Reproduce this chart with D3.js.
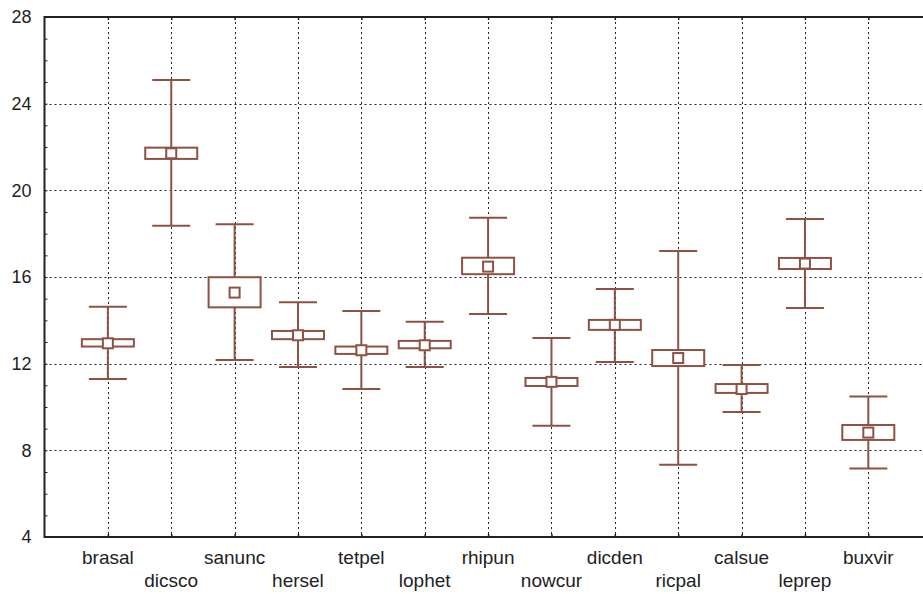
<!DOCTYPE html>
<html>
<head>
<meta charset="utf-8">
<script src="https://cdn.jsdelivr.net/npm/d3@7"></script>
<style>
  html, body { margin: 0; padding: 0; background: #fff; }
  svg { display: block; }
  text { font-family: "Liberation Sans", Arial, sans-serif; fill: #222; }
</style>
</head>
<body>
<svg id="chart" width="923" height="594"></svg>
<script>
const categories = ["brasal", "dicsco", "sanunc", "hersel", "tetpel", "lophet", "rhipun",
                    "nowcur", "dicden", "ricpal", "calsue", "leprep", "buxvir"];
const means       = [12.94, 21.71, 15.28, 13.31, 12.62, 12.85, 16.48, 11.16, 13.79, 12.26, 10.83, 16.62, 8.82];
const boxLow      = [12.79, 21.45, 14.60, 13.13, 12.45, 12.71, 16.13, 10.97, 13.56, 11.89, 10.65, 16.37, 8.48];
const boxHigh     = [13.13, 21.97, 15.99, 13.51, 12.79, 13.05, 16.89, 11.34, 14.02, 12.63, 11.06, 16.88, 9.17];
const whiskerLow  = [11.29, 18.36, 12.17, 11.85, 10.83, 11.85, 14.29,  9.13, 12.08,  7.33,  9.77, 14.57, 7.16];
const whiskerHigh = [14.63, 25.09, 18.43, 14.83, 14.43, 13.94, 18.74, 13.19, 15.45, 17.20, 11.94, 18.68, 10.48];
const yTicks = [4, 8, 12, 16, 20, 24, 28];
const yMinorTicks = d3.range(4, 29, 1);

(function () {
const svg = d3.select("#chart");
const mLeft = 44.5, mTop = 17, mBottom = 537;
const step = 63.37;
const x = d3.scaleLinear().domain([0, categories.length + 1]).range([mLeft, mLeft + step * (categories.length + 1)]);
const y = d3.scaleLinear().domain([4, 28]).range([mBottom, mTop]);
const color = "#8d5243";
const data = categories.map((c, i) => ({
  name: c, pos: i + 1, mean: means[i], lo: boxLow[i], hi: boxHigh[i], wlo: whiskerLow[i], whi: whiskerHigh[i]
}));

// grid
const grid = svg.append("g").attr("stroke", "#222").attr("stroke-width", 1).attr("stroke-dasharray", "2,3");
grid.selectAll("line.h").data(yTicks.slice(1, -1)).join("line")
  .attr("x1", mLeft).attr("x2", 923)
  .attr("y1", d => Math.round(y(d)) + 0.5).attr("y2", d => Math.round(y(d)) + 0.5);
grid.selectAll("line.v").data(data).join("line")
  .attr("x1", d => Math.round(x(d.pos)) + 0.5).attr("x2", d => Math.round(x(d.pos)) + 0.5)
  .attr("y1", mTop).attr("y2", mBottom);

// y axis labels
const yAxis = d3.axisLeft(y).tickValues(yTicks).tickSize(0).tickPadding(13).tickFormat(d3.format("d"));
const ga = svg.append("g").attr("transform", `translate(${mLeft},0)`).call(yAxis);
ga.select(".domain").remove();
ga.selectAll("text").style("font-size", "18px").attr("fill", "#222");

// minor ticks inside left axis
const minor = d3.axisRight(y).tickValues(yMinorTicks).tickSize(3).tickFormat("");
const gm = svg.append("g").attr("transform", `translate(${mLeft},0)`).call(minor);
gm.select(".domain").remove();
gm.selectAll("line").attr("stroke", "#222");

// category ticks on top and bottom
const xTop = d3.axisBottom(x).tickValues(data.map(d => d.pos)).tickSize(3).tickFormat("");
const gt = svg.append("g").attr("transform", `translate(0,${mTop})`).call(xTop);
gt.select(".domain").remove();
gt.selectAll("line").attr("stroke", "#222").attr("stroke-width", 1.5);
const xBot = d3.axisTop(x).tickValues(data.map(d => d.pos)).tickSize(3).tickFormat("");
const gb = svg.append("g").attr("transform", `translate(0,${mBottom})`).call(xBot);
gb.select(".domain").remove();
gb.selectAll("line").attr("stroke", "#222").attr("stroke-width", 1.5);

// frame lines
svg.append("line").attr("x1", mLeft).attr("x2", 923).attr("y1", mTop).attr("y2", mTop).attr("stroke", "#222").attr("stroke-width", 2);
svg.append("line").attr("x1", mLeft).attr("x2", 923).attr("y1", mBottom).attr("y2", mBottom).attr("stroke", "#222").attr("stroke-width", 2);
svg.append("line").attr("x1", mLeft).attr("x2", mLeft).attr("y1", mTop - 1).attr("y2", mBottom + 1).attr("stroke", "#222").attr("stroke-width", 2);

// category labels
svg.append("g").selectAll("text").data(data).join("text")
  .attr("x", d => x(d.pos))
  .attr("y", (d, i) => i % 2 === 0 ? 564 : 587)
  .attr("text-anchor", "middle")
  .style("font-size", "19px")
  .text(d => d.name);

// boxes
const boxW = 52, capW = 38, mW = 10;
const g = svg.append("g").attr("stroke", color).attr("stroke-width", 2).attr("fill", "#fff");
g.selectAll("line.w").data(data).join("line")
  .attr("x1", d => x(d.pos)).attr("x2", d => x(d.pos))
  .attr("y1", d => y(d.wlo)).attr("y2", d => y(d.whi));
g.selectAll("line.cl").data(data).join("line")
  .attr("x1", d => x(d.pos) - capW / 2).attr("x2", d => x(d.pos) + capW / 2)
  .attr("y1", d => y(d.wlo)).attr("y2", d => y(d.wlo));
g.selectAll("line.ch").data(data).join("line")
  .attr("x1", d => x(d.pos) - capW / 2).attr("x2", d => x(d.pos) + capW / 2)
  .attr("y1", d => y(d.whi)).attr("y2", d => y(d.whi));
g.selectAll("rect.b").data(data).join("rect")
  .attr("x", d => x(d.pos) - boxW / 2).attr("width", boxW)
  .attr("y", d => y(d.hi)).attr("height", d => y(d.lo) - y(d.hi));
g.selectAll("rect.m").data(data).join("rect")
  .attr("x", d => x(d.pos) - mW / 2).attr("width", mW)
  .attr("y", d => y(d.mean) - mW / 2).attr("height", mW);
})();
</script>
</body>
</html>
